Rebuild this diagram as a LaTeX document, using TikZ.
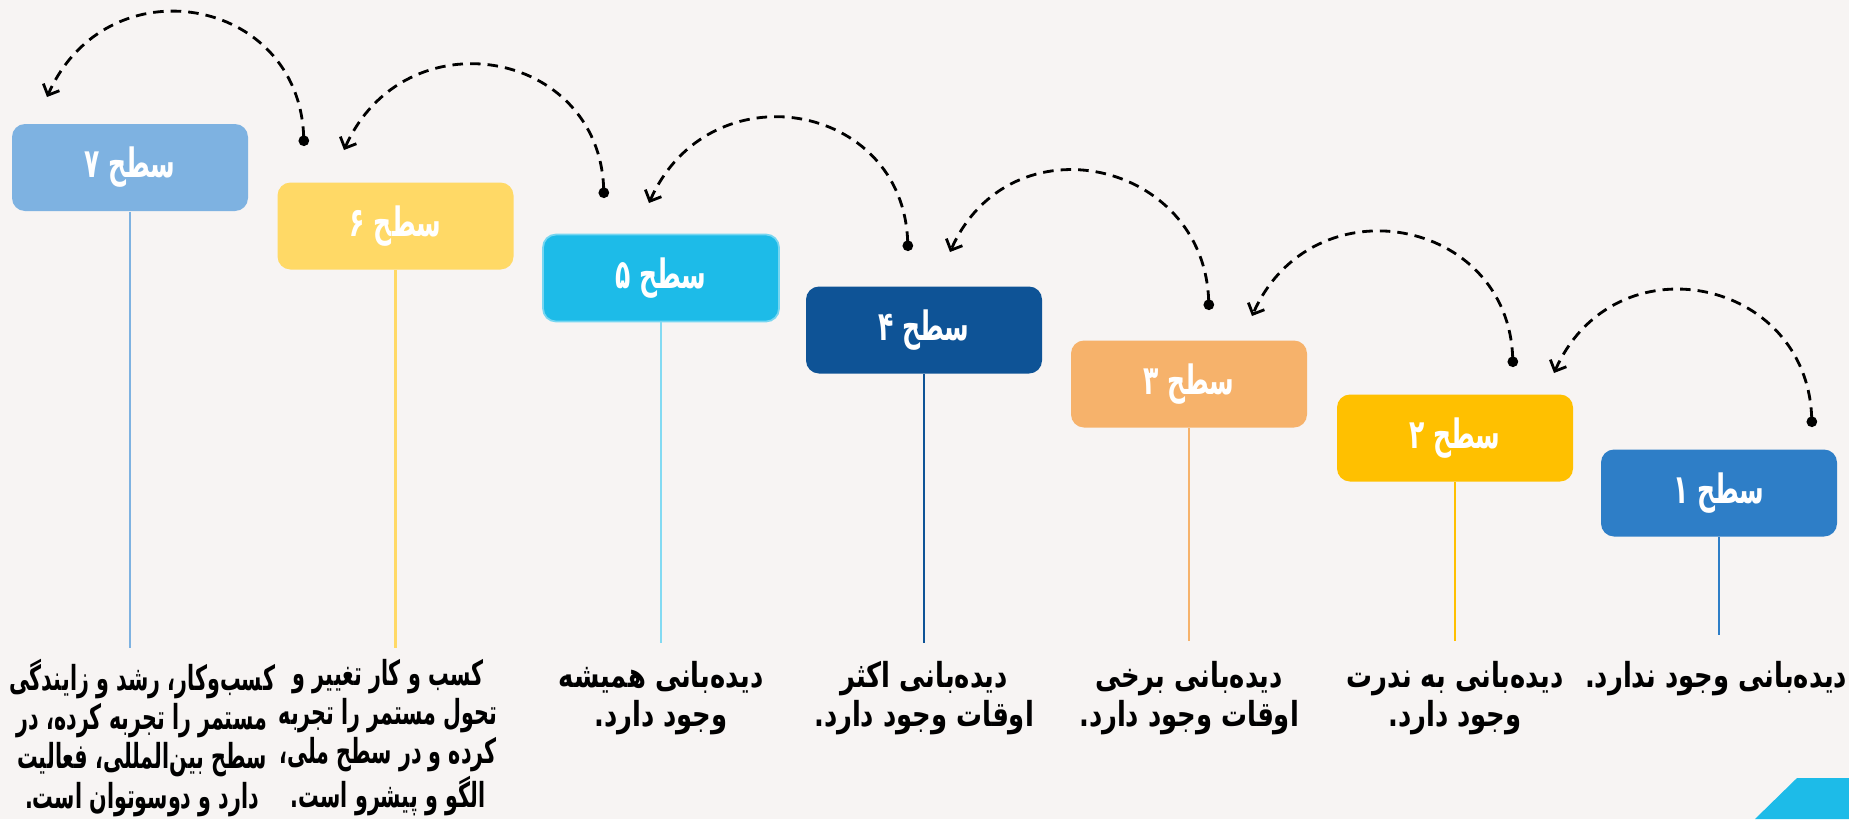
\documentclass[tikz,border=0pt]{standalone}
\usepackage{fontspec}
\usetikzlibrary{arrows.meta}
\TeXXeTstate=1
\newfontfamily\labelfont[Script=Arabic, FakeStretch=0.62]{DejaVu Sans}
\newfontfamily\descfont[Script=Arabic, FakeStretch=0.75]{DejaVu Sans}
\newfontfamily\descnarrow[Script=Arabic, FakeStretch=0.6]{DejaVu Sans}
\newcommand{\fa}[1]{\beginR #1\endR}
\definecolor{pagebg}{HTML}{F7F4F3}
\definecolor{lvA}{HTML}{2E7EC7}
\definecolor{lvB}{HTML}{FFC000}
\definecolor{lvC}{HTML}{F6B26B}
\definecolor{lvD}{HTML}{0E5396}
\definecolor{lvE}{HTML}{1DBBE8}
\definecolor{lvF}{HTML}{FFD966}
\definecolor{lvG}{HTML}{7EB2E1}

\begin{document}
\begin{tikzpicture}[x=0.1mm, y=-0.1mm, line width=0.5pt,
  levelbox/.style={rounded corners=1.3mm, minimum width=23.6mm, minimum height=8.7mm,
    inner sep=0pt, text=white, font=\labelfont\bfseries\fontsize{11.5}{14}\selectfont},
  stem/.style={line width=0.6pt},
  desc/.style={anchor=north, align=center, inner sep=0pt,
    font=\descfont\bfseries\fontsize{9.8}{11.2}\selectfont},
  longdesc/.style={desc, font=\descnarrow\bfseries\fontsize{9.8}{11.2}\selectfont},
  hop/.style={dash pattern=on 3pt off 2pt, line width=0.8pt,
    {Circle[length=3pt]}-{Straight Barb[length=2.5pt, width=5pt]}}]
  \useasboundingbox (0,0) rectangle (1849,819);
  \fill[pagebg] (0,0) rectangle (1849,819);
  % corner
  \fill[lvE] (1755,819) -- (1797,778) -- (1849,778) -- (1849,819) -- cycle;
  % levels
  \node[levelbox, fill=lvG] (s7) at (130,167.5) {\fa{سطح ۷}};
  \node[levelbox, fill=lvF] (s6) at (395.5,226) {\fa{سطح ۶}};
  \node[levelbox, fill=lvE, draw=lvE!60!white] (s5) at (661,278) {\fa{سطح ۵}};
  \node[levelbox, fill=lvD] (s4) at (924,330) {\fa{سطح ۴}};
  \node[levelbox, fill=lvC] (s3) at (1189,384) {\fa{سطح ۳}};
  \node[levelbox, fill=lvB] (s2) at (1455,438) {\fa{سطح ۲}};
  \node[levelbox, fill=lvA] (s1) at (1719,493) {\fa{سطح ۱}};
  % stems
  \coordinate (e7) at (130,648);
  \coordinate (e6) at (395.5,648);
  \coordinate (e5) at (661,643);
  \coordinate (e4) at (924,643);
  \coordinate (e3) at (1189,641);
  \coordinate (e2) at (1455,641);
  \coordinate (e1) at (1719,635);
  \draw[stem, lvG] (s7.south) -- (e7);
  \draw[stem, lvF] (s6.south) -- (e6);
  \draw[stem, lvE!55!white] (s5.south) -- (e5);
  \draw[stem, lvD] (s4.south) -- (e4);
  \draw[stem, lvC] (s3.south) -- (e3);
  \draw[stem, lvB] (s2.south) -- (e2);
  \draw[stem, lvA] (s1.south) -- (e1);
  % texts
  \node[longdesc] (t7) at (142,658) {\fa{کسب^^^^200cوکار، رشد و زایندگی}\\
    \fa{مستمر را تجربه کرده، در}\\ \fa{سطح بین^^^^200cالمللی، فعالیت}\\
    \fa{دارد و دوسوتوان است.}};
  \node[longdesc] (t6) at (388,658) {\fa{کسب و کار تغییر و}\\
    \fa{تحول مستمر را تجربه}\\ \fa{کرده و در سطح ملی،}\\ \fa{الگو و پیشرو است.}};
  \node[desc] (t5) at (661,660) {\fa{دیده^^^^200cبانی همیشه}\\ \fa{وجود دارد.}};
  \node[desc] (t4) at (924,660) {\fa{دیده^^^^200cبانی اکثر}\\ \fa{اوقات وجود دارد.}};
  \node[desc] (t3) at (1189,660) {\fa{دیده^^^^200cبانی برخی}\\ \fa{اوقات وجود دارد.}};
  \node[desc] (t2) at (1455,660) {\fa{دیده^^^^200cبانی به ندرت}\\ \fa{وجود دارد.}};
  \node[desc] (t1) at (1716,660) {\fa{دیده^^^^200cبانی وجود ندارد.}};
  % dashed hops
  \coordinate (d1) at (1812,427); \coordinate (a1) at (1554,373);
  \coordinate (d2) at (1513,367); \coordinate (a2) at (1252,316);
  \coordinate (d3) at (1209,310); \coordinate (a3) at (950,252);
  \coordinate (d4) at (908,251);  \coordinate (a4) at (649,203);
  \coordinate (d5) at (604,198);  \coordinate (a5) at (344,150);
  \coordinate (d6) at (304,146);  \coordinate (a6) at (47,97);
  \draw[hop] (d1) .. controls +(-5,-150) and +(60,-135) .. (a1);
  \draw[hop] (d2) .. controls +(-5,-150) and +(60,-135) .. (a2);
  \draw[hop] (d3) .. controls +(-5,-150) and +(60,-135) .. (a3);
  \draw[hop] (d4) .. controls +(-5,-150) and +(60,-135) .. (a4);
  \draw[hop] (d5) .. controls +(-5,-150) and +(60,-135) .. (a5);
  \draw[hop] (d6) .. controls +(-5,-150) and +(60,-135) .. (a6);
\end{tikzpicture}
\end{document}
